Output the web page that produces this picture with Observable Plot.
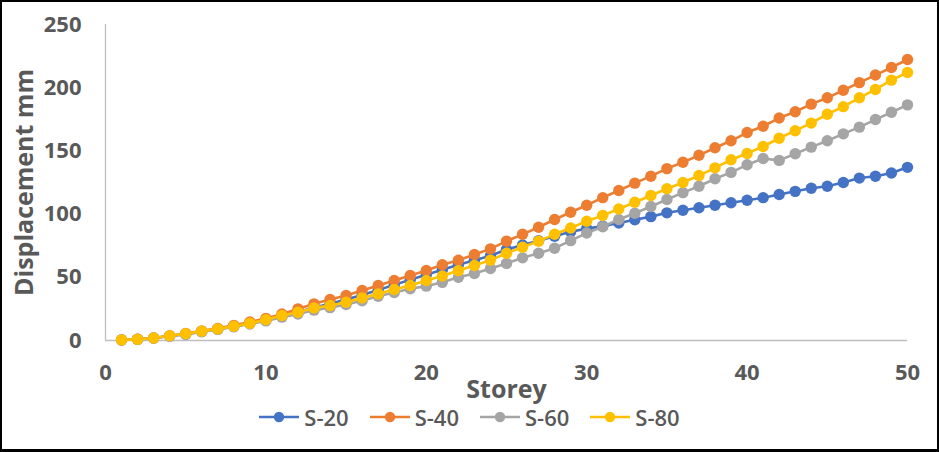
<!DOCTYPE html>
<html>
<head>
<meta charset="utf-8">
<script src="https://cdn.jsdelivr.net/npm/d3@7"></script>
<script src="https://cdn.jsdelivr.net/npm/@observablehq/plot@0.6"></script>
<style>
  html, body { margin: 0; padding: 0; background: #fff; }
  #wrap { position: relative; width: 939px; height: 452px; overflow: hidden; background: #fff; font-family: "Open Sans", sans-serif; }
  #chart svg { position: absolute; left: 0; top: 0; }
  #border { position: absolute; left: 0; top: 0; width: 939px; height: 452px; box-sizing: border-box; border: 2px solid #000; border-bottom-width: 3px; pointer-events: none; }
  #legend { position: absolute; left: 0; top: 400px; width: 939px; height: 34px; display: flex; justify-content: center; align-items: center; gap: 21px; }
  .item { display: flex; align-items: center; gap: 5px; font-size: 22px; font-weight: 600; color: #595959; line-height: 34px; }
</style>
</head>
<body>
<div id="wrap">
  <div id="chart"></div>
  <div id="legend"></div>
  <div id="border"></div>
</div>
<script>
const storeys = [1,2,3,4,5,6,7,8,9,10,11,12,13,14,15,16,17,18,19,20,21,22,23,24,25,26,27,28,29,30,31,32,33,34,35,36,37,38,39,40,41,42,43,44,45,46,47,48,49,50];

const s20 = [0.5,1,2,3.5,5,7,9,11.5,14,16.5,19.5,22.5,26,29,32.5,36,40,44,48,52,56,60,63.5,67,72,75.5,79,82.5,86,88.5,90.5,93,95.5,98,101,103,105,107,109,111,113,115.5,118,120.5,122,125,128.5,130,132.5,137];
const s40 = [0.5,1,2,3.7,5.5,7.6,9.6,12,14.6,17.5,21,25,29,32.4,35.6,39.6,43.5,47.5,51.4,55.4,60,63.5,68,72.5,78.6,84,89.6,95.7,101.5,107,113,118.7,124.5,130,136,141,146.5,152.5,158,164.5,169.5,176,181,187,192,198,204,210,216,222.3];
const s60 = [0.4,0.9,1.8,3.3,5,7,8.8,10.8,13,15.5,18.5,21,24,26,28.5,31.5,35,38,41,43,46,50,53,57,61,65.4,69,73,79,85,90,95.7,100.7,106,111.5,117,122,128,133,139,144,142.5,147.7,153,158,163.5,168.8,174.8,180.6,186.4];
const s80 = [0.5,1,2,3.7,5.3,7.4,9.2,11.3,13.7,16.4,19.8,22.4,25.8,27.7,30.3,33.7,36.9,40.3,43.5,47.5,51,55.3,59.3,63.6,69,73.8,78.6,84,89,94.4,99,104,109.4,114.7,120,125,130.5,136.6,143,148,153.5,160,166,172,179,185,192,198.6,206,212];

const seriesNames = ["S-20", "S-40", "S-60", "S-80"];
const seriesColors = ["#4472C4", "#ED7D31", "#A5A5A5", "#FFC000"];
const seriesValues = [s20, s40, s60, s80];

const xTicks = [0, 10, 20, 30, 40, 50];
const yTicks = [0, 50, 100, 150, 200, 250];
const xTitle = "Storey";
const yTitle = "Displacement mm";

const data = [];
seriesNames.forEach((name, k) => {
  storeys.forEach((s, i) => data.push({series: name, storey: s, value: seriesValues[k][i]}));
});

const textColor = "#595959";
const axisColor = "#BFBFBF";

const marks = [
  Plot.ruleY([0], {stroke: axisColor, strokeWidth: 1.3}),
  Plot.ruleX([0], {stroke: axisColor, strokeWidth: 1.3}),
  Plot.axisX({ticks: xTicks, tickSize: 0, tickPadding: 24, fontSize: 22, fontWeight: "bold", fill: textColor, label: null}),
  Plot.axisY({ticks: yTicks, tickSize: 0, tickPadding: 24, fontSize: 22, fontWeight: "bold", fill: textColor, label: null})
];
seriesNames.forEach((name, k) => {
  const d = data.filter(r => r.series === name);
  marks.push(Plot.line(d, {x: "storey", y: "value", stroke: seriesColors[k], strokeWidth: 2.6}));
  marks.push(Plot.dot(d, {x: "storey", y: "value", fill: seriesColors[k], r: 5.7, stroke: "none"}));
});
marks.push(Plot.text([xTitle], {frameAnchor: "bottom", text: d => d, dy: 49, textAnchor: "middle", lineAnchor: "middle", fontSize: 25, fontWeight: "bold", fill: textColor}));
marks.push(Plot.text([yTitle], {frameAnchor: "left", text: d => d, dx: -81, rotate: -90, textAnchor: "middle", lineAnchor: "middle", fontSize: 25, fontWeight: "bold", fill: textColor}));

const chart = Plot.plot({
  width: 939,
  height: 400,
  marginLeft: 105,
  marginRight: 32,
  marginTop: 24,
  marginBottom: 60,
  style: {fontFamily: "'Open Sans', sans-serif", background: "transparent", overflow: "visible"},
  x: {domain: [0, 50]},
  y: {domain: [0, 250]},
  marks
});
document.getElementById("chart").appendChild(chart);

const legend = document.getElementById("legend");
seriesNames.forEach((name, k) => {
  const item = document.createElement("div");
  item.className = "item";
  const sw = d3.create("svg").attr("width", 40).attr("height", 14);
  sw.append("line").attr("x1", 0).attr("x2", 40).attr("y1", 7).attr("y2", 7).attr("stroke", seriesColors[k]).attr("stroke-width", 2.6);
  sw.append("circle").attr("cx", 20).attr("cy", 7).attr("r", 5.2).attr("fill", seriesColors[k]);
  item.appendChild(sw.node());
  const t = document.createElement("span");
  t.textContent = name;
  item.appendChild(t);
  legend.appendChild(item);
});
</script>
</body>
</html>
